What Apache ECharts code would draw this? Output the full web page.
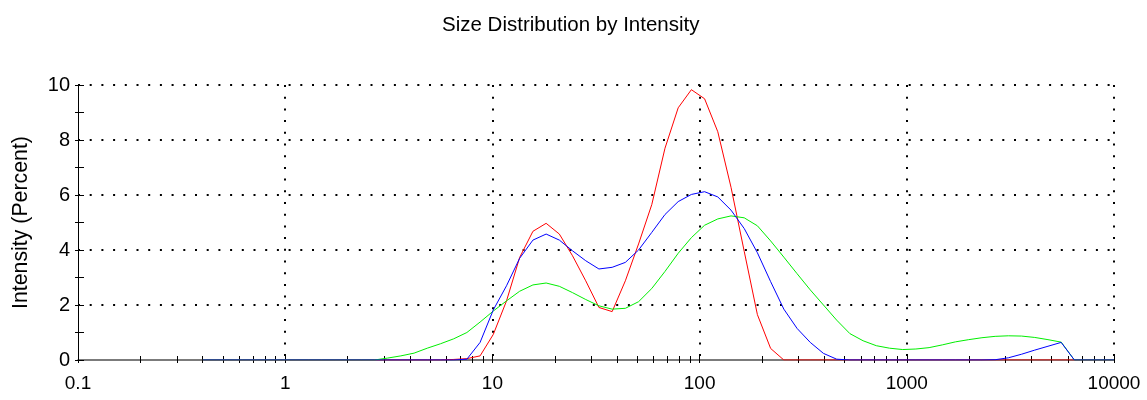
<!DOCTYPE html>
<html>
<head>
<meta charset="utf-8">
<script src="https://cdn.jsdelivr.net/npm/echarts@6/dist/echarts.min.js"></script>
<style>
  html, body { margin: 0; padding: 0; background: #fff; }
  #chart { width: 1147px; height: 400px; }
</style>
</head>
<body>
<div id="chart"></div>
<script>
// Size classes (d.nm), log-spaced
const sizes = [
  0.4, 0.4632, 0.5365, 0.6213, 0.7195, 0.8332, 0.9649, 1.117, 1.294, 1.499,
  1.736, 2.010, 2.328, 2.696, 3.122, 3.615, 4.187, 4.849, 5.615, 6.503,
  7.531, 8.721, 10.10, 11.70, 13.54, 15.69, 18.17, 21.04, 24.36, 28.21,
  32.67, 37.84, 43.82, 50.75, 58.77, 68.06, 78.82, 91.28, 105.7, 122.4,
  141.8, 164.2, 190.1, 220.2, 255.0, 295.3, 342.0, 396.1, 458.7, 531.2,
  615.1, 712.4, 825.0, 955.4, 1106, 1281, 1484, 1718, 1990, 2305,
  2669, 3091, 3580, 4145, 4801, 5560, 6439, 7456, 8635, 10000
];

// Intensity (%) per size class
const record1 = [ // red
  0, 0, 0, 0, 0, 0, 0, 0, 0, 0,
  0, 0, 0, 0, 0, 0, 0, 0, 0, 0.02,
  0.05, 0.15, 0.93, 2.15, 3.73, 4.68, 4.97, 4.58, 3.79, 2.88,
  1.91, 1.76, 2.88, 4.22, 5.65, 7.70, 9.17, 9.83, 9.50, 8.30,
  6.28, 3.95, 1.65, 0.42, 0, 0, 0, 0, 0, 0,
  0, 0, 0, 0, 0, 0, 0, 0, 0, 0,
  0, 0, 0, 0, 0, 0, 0, 0, 0, 0
];
const record2 = [ // green
  0, 0, 0, 0, 0, 0, 0, 0, 0, 0,
  0, 0, 0, 0, 0.07, 0.15, 0.25, 0.43, 0.59, 0.77,
  1.00, 1.38, 1.78, 2.15, 2.50, 2.73, 2.80, 2.68, 2.45, 2.20,
  1.97, 1.85, 1.88, 2.12, 2.60, 3.22, 3.88, 4.45, 4.90, 5.13,
  5.24, 5.17, 4.88, 4.33, 3.74, 3.14, 2.55, 2.00, 1.45, 0.96,
  0.70, 0.52, 0.43, 0.38, 0.40, 0.45, 0.55, 0.66, 0.74, 0.81,
  0.86, 0.88, 0.87, 0.82, 0.74, 0.65, 0, 0, 0, 0
];
const record3 = [ // blue
  0, 0, 0, 0, 0, 0, 0, 0, 0, 0,
  0, 0, 0, 0, 0, 0, 0, 0, 0, 0,
  0.03, 0.64, 1.82, 2.70, 3.70, 4.36, 4.58, 4.36, 3.97, 3.61,
  3.31, 3.37, 3.55, 4.00, 4.64, 5.29, 5.76, 6.02, 6.12, 5.93,
  5.45, 4.78, 3.90, 2.85, 1.85, 1.15, 0.64, 0.24, 0.03, 0,
  0, 0, 0, 0, 0, 0, 0, 0, 0, 0,
  0.01, 0.08, 0.21, 0.36, 0.50, 0.64, 0, 0, 0, 0
];

// Axis ticks and labels
const xDecades = [0.1, 1, 10, 100, 1000, 10000];
const xTickLabels = ['0.1', '1', '10', '100', '1000', '10000'];
const xMultiples = [2, 3, 4, 5, 6, 7, 8, 9];
const yTicks = [0, 2, 4, 6, 8, 10];

const xTickValues = [];
xDecades.forEach((d, i) => {
  xTickValues.push(d);
  if (i < xDecades.length - 1) xMultiples.forEach(m => xTickValues.push(+(d * m).toPrecision(6)));
});

const FONT = 'Liberation Sans';
const pairs = arr => sizes.map((s, i) => [s, arr[i]]);
const dotted = { color: '#000', width: 2, type: [2, 9.7] };
const labelFor = v => {
  const i = xDecades.findIndex(d => Math.abs(Math.log10(d) - Math.log10(v)) < 1e-6);
  return i >= 0 ? xTickLabels[i] : '';
};

const chart = echarts.init(document.getElementById('chart'), null, { renderer: 'canvas' });

// grid 0: plot + inner ticks, grid 1: outer tick stubs, grid 2: dotted grid lines
const plotBox = { left: 78, right: 33, top: 85, height: 275 };
const logX = { type: 'log', logBase: 10, min: 0.1, max: 10000 };
const linY = { type: 'value', min: 0, max: 10, interval: 2 };
const hidden = { axisLine: { show: false }, axisTick: { show: false }, axisLabel: { show: false }, splitLine: { show: false } };

chart.setOption({
  animation: false,
  backgroundColor: '#fff',
  textStyle: { fontFamily: FONT },
  title: {
    text: 'Size Distribution by Intensity',
    left: 437,
    top: 10,
    textStyle: { fontFamily: FONT, fontSize: 20.5, fontWeight: 'normal', color: '#000' }
  },
  grid: [Object.assign({}, plotBox), Object.assign({}, plotBox), Object.assign({}, plotBox)],
  xAxis: [
    Object.assign({}, logX, {
      gridIndex: 0,
      axisLine: { show: true, lineStyle: { color: '#505050', width: 1.5 } },
      axisTick: { show: true, inside: true, length: 4, customValues: xTickValues, lineStyle: { color: '#000', width: 1 } },
      axisLabel: { show: true, fontSize: 19, color: '#000', margin: 14, fontFamily: FONT, customValues: xDecades, formatter: labelFor },
      splitLine: { show: false }
    }),
    Object.assign({}, logX, hidden, {
      gridIndex: 1,
      axisTick: { show: true, inside: false, length: 3, customValues: xTickValues, lineStyle: { color: '#000', width: 1 } }
    }),
    Object.assign({}, logX, hidden, {
      gridIndex: 2,
      splitLine: { show: true, showMinLine: false, lineStyle: dotted }
    })
  ],
  yAxis: [
    Object.assign({}, linY, {
      gridIndex: 0,
      name: 'Intensity (Percent)',
      nameLocation: 'middle',
      nameRotate: 90,
      nameGap: 46,
      nameTextStyle: { fontFamily: FONT, fontSize: 21.3, color: '#000' },
      axisLine: { show: true, lineStyle: { color: '#000', width: 1 } },
      axisTick: { show: true, inside: true, length: 6, lineStyle: { color: '#000' } },
      minorTick: { show: true, splitNumber: 2, length: 6, lineStyle: { color: '#000' } },
      axisLabel: { fontSize: 20, color: '#000', margin: 8, fontFamily: FONT, formatter: v => (yTicks.indexOf(v) >= 0 ? String(v) : '') },
      splitLine: { show: false }
    }),
    Object.assign({}, linY, hidden, {
      gridIndex: 1,
      axisTick: { show: true, inside: false, length: 3, lineStyle: { color: '#000' } },
      minorTick: { show: true, splitNumber: 2, length: 3, lineStyle: { color: '#000' } }
    }),
    Object.assign({}, linY, hidden, {
      gridIndex: 2,
      splitLine: { show: true, showMinLine: false, lineStyle: dotted }
    })
  ],
  series: [
    { name: 'Record 1', type: 'line', xAxisIndex: 0, yAxisIndex: 0, data: pairs(record1), symbol: 'none', silent: true, lineStyle: { color: '#ff0000', width: 1 }, itemStyle: { color: '#ff0000' } },
    { name: 'Record 2', type: 'line', xAxisIndex: 0, yAxisIndex: 0, data: pairs(record2), symbol: 'none', silent: true, lineStyle: { color: '#00ee00', width: 1 }, itemStyle: { color: '#00ee00' } },
    { name: 'Record 3', type: 'line', xAxisIndex: 0, yAxisIndex: 0, data: pairs(record3), symbol: 'none', silent: true, lineStyle: { color: '#0000ff', width: 1 }, itemStyle: { color: '#0000ff' } }
  ]
});
</script>
</body>
</html>
